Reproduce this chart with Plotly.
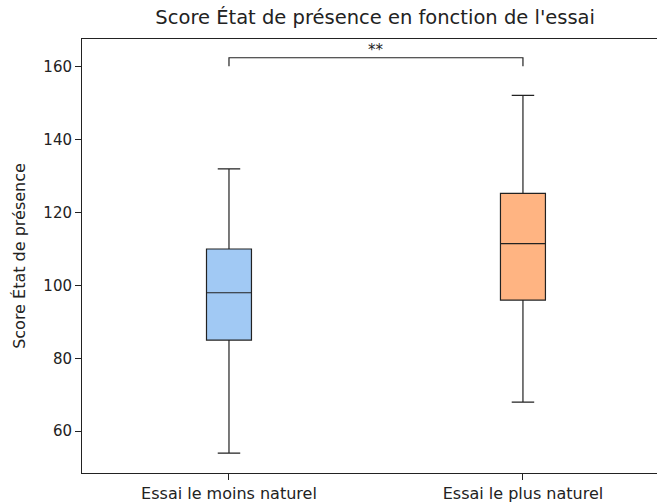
import plotly.graph_objects as go

categories = ["Essai le moins naturel", "Essai le plus naturel"]
positions = [1, 2]
q1 = [85.0, 96.0]
medians = [98.0, 111.5]
q3 = [110.0, 125.3]
lower_whisker = [54.0, 68.0]
upper_whisker = [132.0, 152.2]
fill_colors = ["#a1c9f4", "#ffb482"]

sig_label = "**"
sig_base = 160.2
sig_top = 162.5

y_ticks = [60, 80, 100, 120, 140, 160]

font_family = "DejaVu Sans, sans-serif"
ink = "#222222"

fig = go.Figure()
for i in range(len(categories)):
    fig.add_trace(go.Box(
        x=[positions[i]], q1=[q1[i]], median=[medians[i]], q3=[q3[i]],
        lowerfence=[lower_whisker[i]], upperfence=[upper_whisker[i]],
        width=0.153, whiskerwidth=0.5, fillcolor=fill_colors[i],
        line=dict(color=ink, width=1.2), boxpoints=False,
        showlegend=False, hoverinfo="skip",
    ))

fig.add_trace(go.Scatter(
    x=[positions[0], positions[0], positions[1], positions[1]],
    y=[sig_base, sig_top, sig_top, sig_base],
    mode="lines", line=dict(color=ink, width=1.2),
    showlegend=False, hoverinfo="skip",
))
fig.add_annotation(
    x=(positions[0] + positions[1]) / 2, y=sig_top, text=sig_label,
    showarrow=False, yanchor="bottom", yshift=-3,
    font=dict(family=font_family, size=15, color=ink),
)

fig.update_layout(
    width=657, height=503,
    margin=dict(l=82, r=0, t=39, b=28),
    paper_bgcolor="white", plot_bgcolor="white",
    font=dict(family=font_family, size=15, color=ink),
    title=dict(text="Score État de présence en fonction de l'essai",
               x=0.571, xanchor="center", xref="container", y=0.966, yanchor="middle",
               font=dict(size=19.5, color=ink)),
    xaxis=dict(type="linear", range=[0.5, 2.456], tickvals=positions, ticktext=categories,
               showline=True, linecolor=ink, linewidth=1, mirror=True,
               ticks="outside", ticklen=6, tickcolor=ink, showgrid=False, zeroline=False,
               tickfont=dict(size=16, color=ink)),
    yaxis=dict(range=[48.52, 167.65], tickvals=y_ticks,
               showline=True, linecolor=ink, linewidth=1, mirror=False,
               ticks="outside", ticklen=6, tickcolor=ink, showgrid=False, zeroline=False,
               title=dict(text="Score État de présence", standoff=13, font=dict(size=16, color=ink)),
               tickfont=dict(size=15, color=ink)),
)

fig.write_html("out.html", config={"displayModeBar": False},
               post_script="document.body.style.margin='0';document.body.style.overflow='hidden';")
